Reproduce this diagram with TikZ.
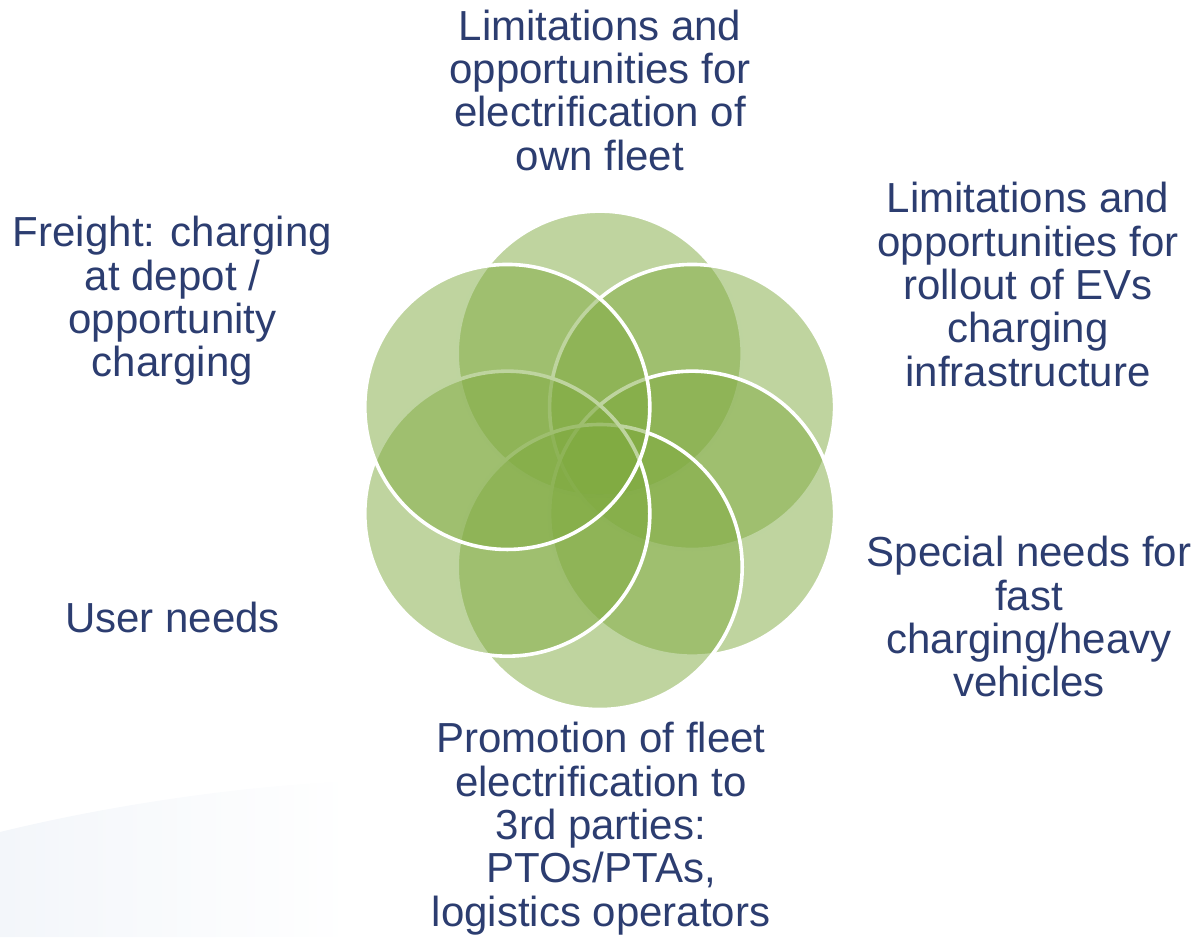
\documentclass[tikz,border=0pt]{standalone}
\usepackage{fontspec}
\setmainfont{Liberation Sans}
\definecolor{leaf}{RGB}{127,170,64}
\definecolor{ink}{RGB}{44,61,112}
\definecolor{haze}{RGB}{243,246,250}
% centred lines with a fixed baseline distance; the box's baseline is the first line's
\newcommand\linesof[1]{\vtop{\lineskiplimit=-1000pt\lineskip=0pt\baselineskip=43.4pt
  \halign{\hfil##\hfil\cr#1\crcr}}}
\begin{document}
\begin{tikzpicture}[x=1pt,y=-1pt,
  petal/.style={circle, minimum size=285pt, inner sep=0pt, fill=leaf,
    fill opacity=0.5, draw=white, draw opacity=1, line width=3.6pt},
  lbl/.style={inner sep=0pt, anchor=base, text=ink,
    font=\fontsize{42}{43.4}\selectfont}]
\useasboundingbox (0,0) rectangle (1198,937);

% faint backdrop sweep, lower left
\shade[left color=haze, right color=white]
  (0,832) .. controls (110,805) and (240,786) .. (352,781)
  -- (352,937) -- (0,937) -- cycle;

% six overlapping circles, clockwise from the top
\node[petal] (p1) at (599.7,353.6) {};
\node[petal] (p2) at (692.1,406.95) {};
\node[petal] (p3) at (692.1,513.65) {};
\node[petal] (p4) at (599.7,567.0) {};
\node[petal] (p5) at (507.3,513.65) {};
\node[petal] (p6) at (507.3,406.95) {};

% labels
\node[lbl] (t1) at (600,40) {\linesof{Limitations and\cr opportunities for\cr
  electrification of\cr own fleet}};
\node[lbl] (t2) at (1028,212.7) {\linesof{Limitations and\cr opportunities for\cr
  rollout of EVs\cr charging\cr infrastructure}};
\node[lbl] (t3) at (1029,566.7) {\linesof{Special needs for\cr fast\cr
  charging/heavy\cr vehicles}};
\node[lbl] (t4) at (601,752.7) {\linesof{Promotion of fleet\cr electrification to\cr
  3rd parties:\cr PTOs/PTAs,\cr logistics operators}};
\node[lbl] (t5) at (172.5,632.7) {User needs};
\node[lbl] (t6) at (172.5,246.7) {\linesof{Freight: charging\cr at depot /\cr
  opportunity\cr charging}};
\end{tikzpicture}
\end{document}
